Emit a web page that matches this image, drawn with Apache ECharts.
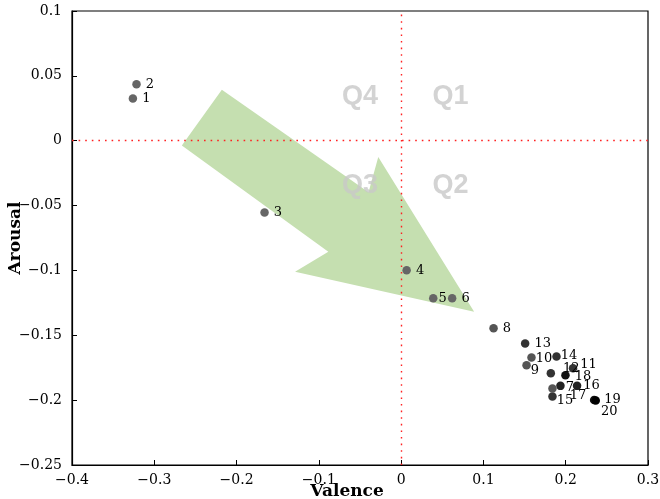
<!DOCTYPE html>
<html>
<head>
<meta charset="utf-8">
<script src="https://cdn.jsdelivr.net/npm/echarts@6/dist/echarts.min.js"></script>
<style>
  html, body { margin: 0; padding: 0; background: #fff; }
  #chart { width: 660px; height: 499px; }
</style>
</head>
<body>
<div id="chart"></div>
<script>
// point ids and their (valence, arousal)
var pointIds = ['1','2','3','4','5','6','7','8','9','10','11','12','13','14','15','16','17','18','19','20'];
var valence = [-0.326, -0.3216, -0.166, 0.0067, 0.039, 0.062, 0.1936, 0.1123, 0.1524, 0.1584,
               0.2089, 0.1819, 0.1507, 0.1888, 0.1839, 0.2138, 0.1839, 0.1997, 0.2345, 0.2365];
var arousal = [0.0325, 0.0436, -0.0554, -0.0998, -0.1215, -0.1215, -0.189, -0.1446, -0.1731, -0.1672,
               -0.1754, -0.1792, -0.1564, -0.1664, -0.1972, -0.189, -0.191, -0.1808, -0.1998, -0.2003];

// quadrant names
var quadNames = ['Q4', 'Q1', 'Q3', 'Q2'];
var quadX = [-0.05, 0.06, -0.05, 0.06];
var quadY = [0.034, 0.034, -0.0345, -0.0345];

// big arrow outline (data coords)
var arrowX = [-0.2179, -0.2665, -0.0885, -0.1289, 0.0887, -0.0278, -0.0396];
var arrowY = [0.0392, -0.0036, -0.0856, -0.101, -0.1318, -0.0125, -0.0398];

var xTicks = { min: -0.4, max: 0.3, step: 0.1 };
var yTicks = { min: -0.25, max: 0.1, step: 0.05 };

// styling
var shades = ['#666','#666','#666','#666','#666','#666','#222','#555','#555','#555',
              '#333','#333','#333','#333','#333','#222','#555','#111','#111','#000'];
var labelNudge = {
  '5': [-4, 0], '7': [-4, 2], '9': [-5, 5], '10': [-5, 1], '11': [-2, -4], '12': [3, -5],
  '14': [-5, -1], '15': [-5, 4], '16': [-3, 0], '17': [8, 7], '18': [0, 1], '19': [1, 0], '20': [-4, 11]
};

var serif = 'DejaVu Serif';
function fmt(v) {
  var s = String(+v.toFixed(2));
  return s.replace('-', '\u2212');
}

var points = pointIds.map(function (id, i) {
  var item = { value: [valence[i], arousal[i]], name: id, itemStyle: { color: shades[i], opacity: 1 } };
  if (labelNudge[id]) item.label = { offset: labelNudge[id] };
  return item;
});

var quads = quadNames.map(function (q, i) {
  return { value: [quadX[i], quadY[i]], name: q };
});

var chart = echarts.init(document.getElementById('chart'));
var option = {
  animation: false,
  backgroundColor: '#fff',
  grid: {
    left: 72, right: 12, top: 11, bottom: 34,
    show: true, borderColor: '#000', borderWidth: 1.2,
    outerBoundsMode: 'none'
  },
  xAxis: {
    type: 'value',
    min: xTicks.min, max: xTicks.max, interval: xTicks.step,
    name: 'Valence', nameLocation: 'middle', nameGap: 18, nameMoveOverlap: false,
    nameTextStyle: { fontFamily: serif, fontWeight: 'bold', fontSize: 17, color: '#000', padding: [0, 26, 0, 0] },
    axisLine: { onZero: false, lineStyle: { color: '#000', width: 1.2 } },
    axisTick: { inside: true, length: 5, lineStyle: { color: '#000' } },
    axisLabel: { formatter: fmt, fontFamily: serif, fontSize: 14, color: '#000', margin: 8 },
    splitLine: { show: false }
  },
  yAxis: {
    type: 'value',
    min: yTicks.min, max: yTicks.max, interval: yTicks.step,
    name: 'Arousal', nameLocation: 'middle', nameGap: 48, nameMoveOverlap: false,
    nameTextStyle: { fontFamily: serif, fontWeight: 'bold', fontSize: 17, color: '#000' },
    axisLine: { onZero: false, lineStyle: { color: '#000', width: 1.2 } },
    axisTick: { inside: true, length: 5, lineStyle: { color: '#000' } },
    axisLabel: { formatter: fmt, fontFamily: serif, fontSize: 14, color: '#000', margin: 10 },
    splitLine: { show: false }
  },
  series: [
    {
      type: 'custom',
      silent: true,
      z: 1,
      data: [[arrowX[0], arrowY[0]]],
      renderItem: function (params, api) {
        var pts = arrowX.map(function (x, i) { return api.coord([x, arrowY[i]]); });
        return {
          type: 'polygon',
          shape: { points: pts },
          style: { fill: '#c5dfb0', stroke: null }
        };
      }
    },
    {
      type: 'scatter',
      silent: true,
      z: 2,
      symbolSize: 0,
      data: quads,
      label: {
        show: true, position: 'inside',
        formatter: '{b}',
        fontFamily: 'Liberation Sans', fontWeight: 'bold', fontSize: 27, color: '#c8c8c8'
      },
      markLine: {
        silent: true,
        symbol: 'none',
        label: { show: false },
        lineStyle: { color: '#ff2020', type: [1.6, 5], width: 1.4 },
        data: [{ xAxis: 0 }, { yAxis: 0 }]
      }
    },
    {
      type: 'scatter',
      z: 3,
      symbolSize: 8.5,
      data: points,
      label: {
        show: true, position: 'right', distance: 5,
        formatter: '{b}',
        fontFamily: serif, fontSize: 13, color: '#000'
      }
    }
  ]
};
chart.setOption(option);
</script>
</body>
</html>
